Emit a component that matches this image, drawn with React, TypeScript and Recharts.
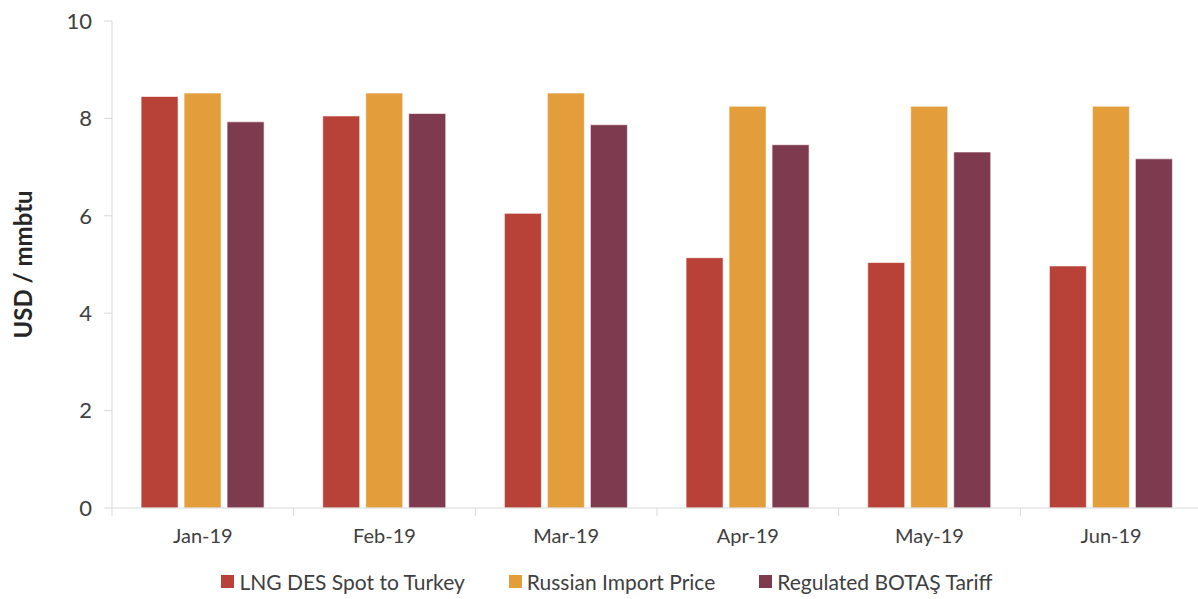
import { BarChart, Bar, XAxis, YAxis, Legend } from 'recharts'

const MONTHS = ['Jan-19', 'Feb-19', 'Mar-19', 'Apr-19', 'May-19', 'Jun-19']
const LNG_SPOT = [8.45, 8.05, 6.05, 5.14, 5.04, 4.97]
const RUSSIAN_IMPORT = [8.52, 8.52, 8.52, 8.25, 8.25, 8.25]
const BOTAS_TARIFF = [7.93, 8.1, 7.87, 7.46, 7.31, 7.17]
const Y_TICKS = [0, 2, 4, 6, 8, 10]

const SERIES = [
  { key: 'lng', name: 'LNG DES Spot to Turkey', color: '#B94238' },
  { key: 'rus', name: 'Russian Import Price', color: '#E39D3A' },
  { key: 'botas', name: 'Regulated BOTAŞ Tariff', color: '#7E3A4F' },
]

const data = MONTHS.map((m, i) => ({
  month: m,
  lng: LNG_SPOT[i],
  rus: RUSSIAN_IMPORT[i],
  botas: BOTAS_TARIFF[i],
}))

const FONT = 'Lato, "Open Sans", sans-serif'
const CHART_W = 1202
const Y_AXIS_W = 112
const TICK_GAP = 21
const BAND = (CHART_W - Y_AXIS_W) / MONTHS.length

// category label plus the small tick mark at the left edge of its band
function MonthTick(props: any) {
  const { x, y, payload } = props
  const axisY = y - TICK_GAP
  return (
    <g>
      <line x1={x - BAND / 2} x2={x - BAND / 2} y1={axisY} y2={axisY + 8} stroke="#d9d9d9" />
      <text x={x} y={y} dy="0.71em" textAnchor="middle" fontSize={20} fill="#404040" fontFamily={FONT}>
        {payload.value}
      </text>
    </g>
  )
}

function LegendContent() {
  return (
    <div style={{ display: 'flex', justifyContent: 'center', gap: 44, fontFamily: FONT, fontSize: 21, color: '#404040', paddingLeft: 12, paddingTop: 3 }}>
      {SERIES.map((s) => (
        <div key={s.key} style={{ display: 'flex', alignItems: 'center', gap: 5 }}>
          <span style={{ width: 13, height: 13, background: s.color, display: 'inline-block' }} />
          <span>{s.name}</span>
        </div>
      ))}
    </div>
  )
}

export default function App() {
  return (
    <div style={{ position: 'absolute', left: 0, top: 0, background: '#fff' }}>
      <BarChart
        width={CHART_W}
        height={599}
        data={data}
        margin={{ top: 21, right: 0, bottom: 2, left: 0 }}
        barCategoryGap="16%"
        barGap={6}
      >
        <XAxis
          dataKey="month"
          height={58}
          tickSize={0}
          tickMargin={TICK_GAP}
          axisLine={{ stroke: '#d9d9d9' }}
          tick={<MonthTick />}
          interval={0}
        />
        <YAxis
          width={Y_AXIS_W}
          domain={[0, 10]}
          ticks={Y_TICKS}
          tickSize={8}
          tickMargin={12}
          axisLine={{ stroke: '#d9d9d9' }}
          tickLine={{ stroke: '#d9d9d9' }}
          tick={{ fontSize: 22, fill: '#404040', fontFamily: FONT }}
          label={{
            value: 'USD / mmbtu',
            angle: -90,
            position: 'insideLeft',
            offset: 23,
            style: { fontSize: 24, fontWeight: 700, fill: '#262626', fontFamily: FONT, textAnchor: 'middle' },
          }}
        />
        <Legend verticalAlign="bottom" height={31} content={<LegendContent />} />
        {SERIES.map((s) => (
          <Bar
            key={s.key}
            dataKey={s.key}
            name={s.name}
            fill={s.color}
            stroke="#ffffff"
            strokeOpacity={0.6}
            strokeWidth={1}
            isAnimationActive={false}
          />
        ))}
      </BarChart>
    </div>
  )
}
